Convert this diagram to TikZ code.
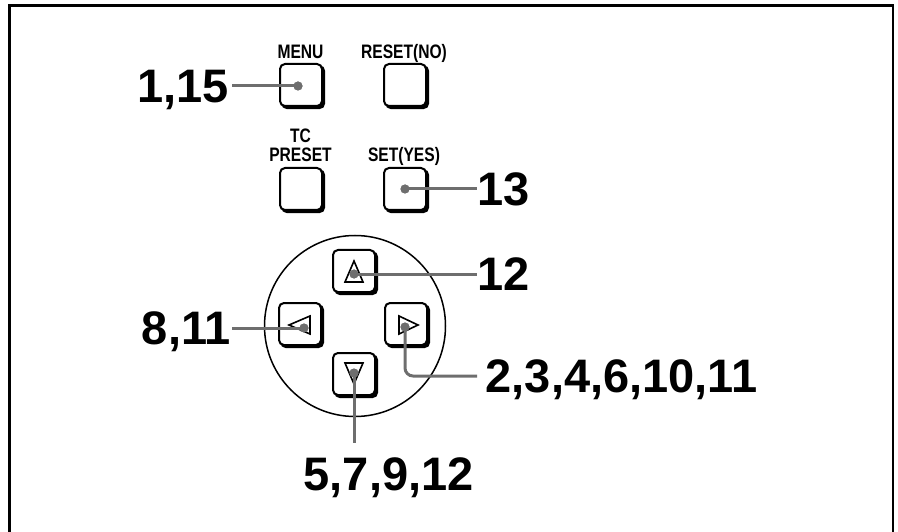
\documentclass[tikz,border=0pt]{standalone}
\usepackage{fontspec}
\setmainfont{Liberation Sans}
\newfontfamily\narrowsans[FakeStretch=0.8]{Liberation Sans}
\usetikzlibrary{shadows}
\definecolor{leadgray}{RGB}{110,110,110}
\begin{document}
\begin{tikzpicture}[x=1pt,y=-1pt,
  btn/.style={draw=black, line width=2pt, fill=white, rounded corners=5pt,
    minimum size=42pt, inner sep=0pt,
    drop shadow={shadow xshift=2.2pt, shadow yshift=-2.2pt, fill=black, draw=black, line width=2pt, opacity=1}},
  tri/.style={draw=black, line width=1.6pt, fill=white, line join=miter},
  dot/.style={circle, fill=leadgray, inner sep=0pt, minimum size=9pt},
  lead/.style={draw=leadgray, line width=3pt},
  num/.style={font=\fontsize{47}{52}\selectfont\bfseries, inner sep=0pt, text height=33.5pt, text depth=0pt},
  lbl/.style={font=\narrowsans\bfseries\fontsize{19.5}{21}\selectfont, inner sep=0pt},
  frame/.style={draw=black, line width=2.4pt}]
\useasboundingbox (0,0) rectangle (898,532);
% frame (open at the bottom)
\draw[frame] (9.5,532) -- (9.5,5.5) -- (893,5.5) -- (893,532);

% button captions
\node[lbl, anchor=base] (capmenu) at (300.5,59) {MENU};
\node[lbl, anchor=base] (capreset) at (404,59) {RESET(NO)};
\node[lbl, anchor=base] (captc) at (300.5,143) {TC};
\node[lbl, anchor=base] (cappreset) at (300.5,162) {PRESET};
\node[lbl, anchor=base] (capset) at (404,162) {SET(YES)};

% upper buttons
\node[btn] (menu) at (301,85) {};
\node[btn] (reset) at (405,85) {};
\node[btn] (tcpreset) at (301,189) {};
\node[btn] (setyes) at (405,189) {};

% direction pad
\node[circle, draw=black, line width=1.5pt, minimum size=181pt, inner sep=0pt] (pad) at (355,326) {};
\node[btn] (up) at (354,271) {};
\node[btn] (left) at (300,324) {};
\node[btn] (right) at (406,324) {};
\node[btn] (down) at (354,374) {};
\draw[tri, shift={(up.center)}] (0,-10) -- (9,11) -- (-9,11) -- cycle;
\draw[tri, shift={(down.center)}] (0,10) -- (9,-11) -- (-9,-11) -- cycle;
\draw[tri, shift={(left.center)}] (-11,1) -- (10,-8) -- (10,10) -- cycle;
\draw[tri, shift={(right.center)}] (12,1) -- (-7,-8) -- (-7,10) -- cycle;

% number labels
\node[num, anchor=east] (l115) at (229,86) {1,15};
\node[num, anchor=west] (l13) at (477,189) {13};
\node[num, anchor=west] (l12) at (477,274) {12};
\node[num, anchor=west] (l2) at (485.5,376) {2,3,4,6,10,11};
\node[num, anchor=east] (l811) at (231,328) {8,11};
\node[num, anchor=north west] (l5) at (303.5,457) {5,7,9,12};

% dots
\node[dot] (dmenu) at (298,86) {};
\node[dot] (dset) at (405,189) {};
\node[dot] (dup) at (354,274) {};
\node[dot] (dleft) at (304,328) {};
\node[dot] (dright) at (405,327) {};
\node[dot] (ddown) at (354,373) {};

% leader lines
\draw[lead, shorten >=3pt] (dmenu.center) -- (l115.east);
\draw[lead] (dset.center) -- (l13.west);
\draw[lead] (dup.center) -- (l12.west);
\draw[lead, shorten >=1pt] (dleft.center) -- (l811.east);
\draw[lead, rounded corners=8pt, shorten >=8.5pt] (dright.center) |- (l2.west);
\draw[lead, shorten >=14pt] (ddown.center) -- (ddown.center |- l5.north);

% redraw dots on top of leads
\fill[leadgray] (dmenu) circle (4.5pt) (dset) circle (4.5pt) (dup) circle (4.5pt)
  (dleft) circle (4.5pt) (dright) circle (4.5pt) (ddown) circle (4.5pt);
\end{tikzpicture}
\end{document}
